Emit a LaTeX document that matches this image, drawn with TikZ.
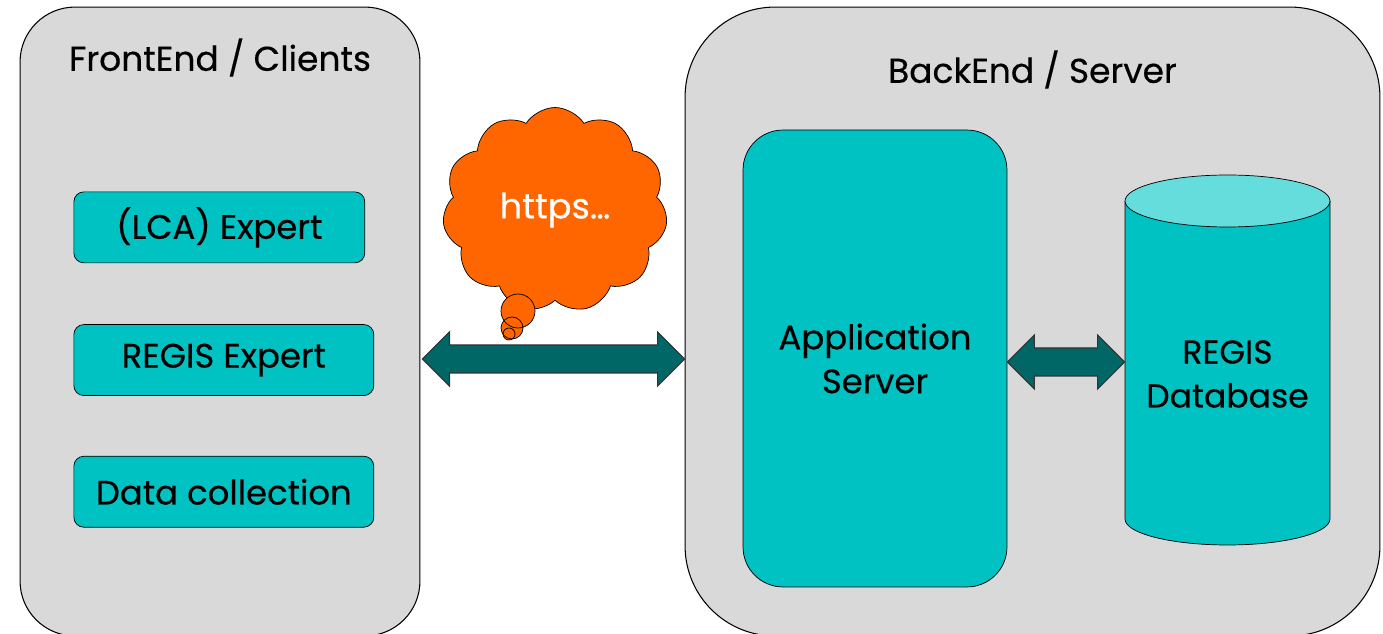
\documentclass[tikz,border=0pt]{standalone}
\usepackage{fontspec}
\setmainfont{Poppins}[FakeBold=0.4]
\usetikzlibrary{positioning,shapes,calc}
\definecolor{panelgray}{RGB}{217,217,217}
\definecolor{boxteal}{RGB}{0,194,194}
\definecolor{dbtop}{RGB}{102,221,221}
\definecolor{linkteal}{RGB}{0,102,102}
\definecolor{cloudorange}{RGB}{255,102,0}

\tikzset{
  panel/.style={draw, fill=panelgray, line width=0.6pt},
  paneltitle/.style={font=\fontsize{19.6}{22}\selectfont},
  clientbox/.style={draw, fill=boxteal, rounded corners=0.2cm, minimum height=1.42cm, font=\fontsize{19.3}{22}\selectfont},
  bigtext/.style={align=center, font=\fontsize{19.3}{25}\selectfont},
  linkfill/.style={draw=black!80, fill=linkteal, line width=0.6pt},
  bubble/.style={circle, fill=cloudorange, inner sep=0pt}
}

% fat double arrow between two points on one level
\newcommand{\fatlink}[2]{%
  \draw[linkfill] (#1) -- ($(#1)+(27,-27)$) -- ($(#1)+(27,-14)$) -- ($(#2)+(-27,-14)$)
    -- ($(#2)+(-27,-27)$) -- (#2) -- ($(#2)+(-27,27)$) -- ($(#2)+(-27,14)$)
    -- ($(#1)+(27,14)$) -- ($(#1)+(27,27)$) -- cycle;}

\begin{document}
\begin{tikzpicture}[x=0.02cm, y=-0.02cm]
    \useasboundingbox (0,0) rectangle (1383,634);
    \clip (0,0) rectangle (1383,634);

    % panels
    \node[panel, minimum width=8cm, minimum height=12.58cm, rounded corners=1.1cm] (front) at (220,321.5) {};
    \node[panel, minimum width=13.9cm, minimum height=12.58cm, rounded corners=1.8cm] (back) at (1032.5,321.5) {};

    \node[paneltitle] (fronttitle) at ($(front.north)+(0,51)$) {FrontEnd / Clients};
    \node[paneltitle] (backtitle) at ($(back.north)+(0,63)$) {BackEnd / Server};

    % clients
    \node[clientbox, minimum width=5.82cm, anchor=north west] (lca) at ($(front.north west)+(54,185)$) {(LCA) Expert};
    \node[clientbox, minimum width=6cm, below=1.22cm of lca.south west, anchor=north west] (regis) {REGIS Expert};
    \node[clientbox, minimum width=6cm, below=1.2cm of regis.south west, anchor=north west] (data) {Data collection};

    % server side
    \node[draw, fill=boxteal, rounded corners=0.8cm, minimum width=5.28cm, minimum height=9.14cm, bigtext] (app) at (875,358.5) {Application\\Server};

    \coordinate (dbc) at (1227.5,360);
    \draw[fill=boxteal] ($(dbc)+(-102.5,-159)$) -- ($(dbc)+(-102.5,159)$)
        arc[start angle=180, end angle=360, x radius=2.05cm, y radius=0.52cm] -- ($(dbc)+(102.5,-159)$);
    \draw[fill=dbtop] ($(dbc)+(0,-159)$) ellipse[x radius=2.05cm, y radius=0.52cm];
    \node[minimum width=4.1cm, minimum height=7.4cm, bigtext, font=\fontsize{18.8}{25}\selectfont] (db) at ($(dbc)+(0,14)$) {REGIS\\Database};

    % links
    \coordinate (linkL) at ($(front.east)+(2,37.5)$);
    \coordinate (linkR) at ($(back.west)+(0,37.5)$);
    \fatlink{linkL}{linkR}
    \coordinate (dbL) at ($(app.east)+(0,3.5)$);
    \coordinate (dbR) at ($(db.west)+(0,-12)$);
    \fatlink{dbL}{dbR}

    % cloud
    \node[cloud, cloud puffs=11, cloud puff arc=115, aspect=1.1, draw, fill=cloudorange, minimum width=4.5cm, minimum height=4.1cm, text=white, font=\fontsize{20}{22}\selectfont] (cloud) at (555,210) {https…};
    \node[bubble, minimum size=0.68cm] (b1) at (518,311) {};
    \node[bubble, minimum size=0.44cm] (b2) at (512,328) {};
    \node[bubble, minimum size=0.24cm] (b3) at (509,334) {};
    \foreach \n/\r in {b1/17,b2/11,b3/6}
        \draw (\n) circle[radius=\r*0.02cm];
\end{tikzpicture}
\end{document}
